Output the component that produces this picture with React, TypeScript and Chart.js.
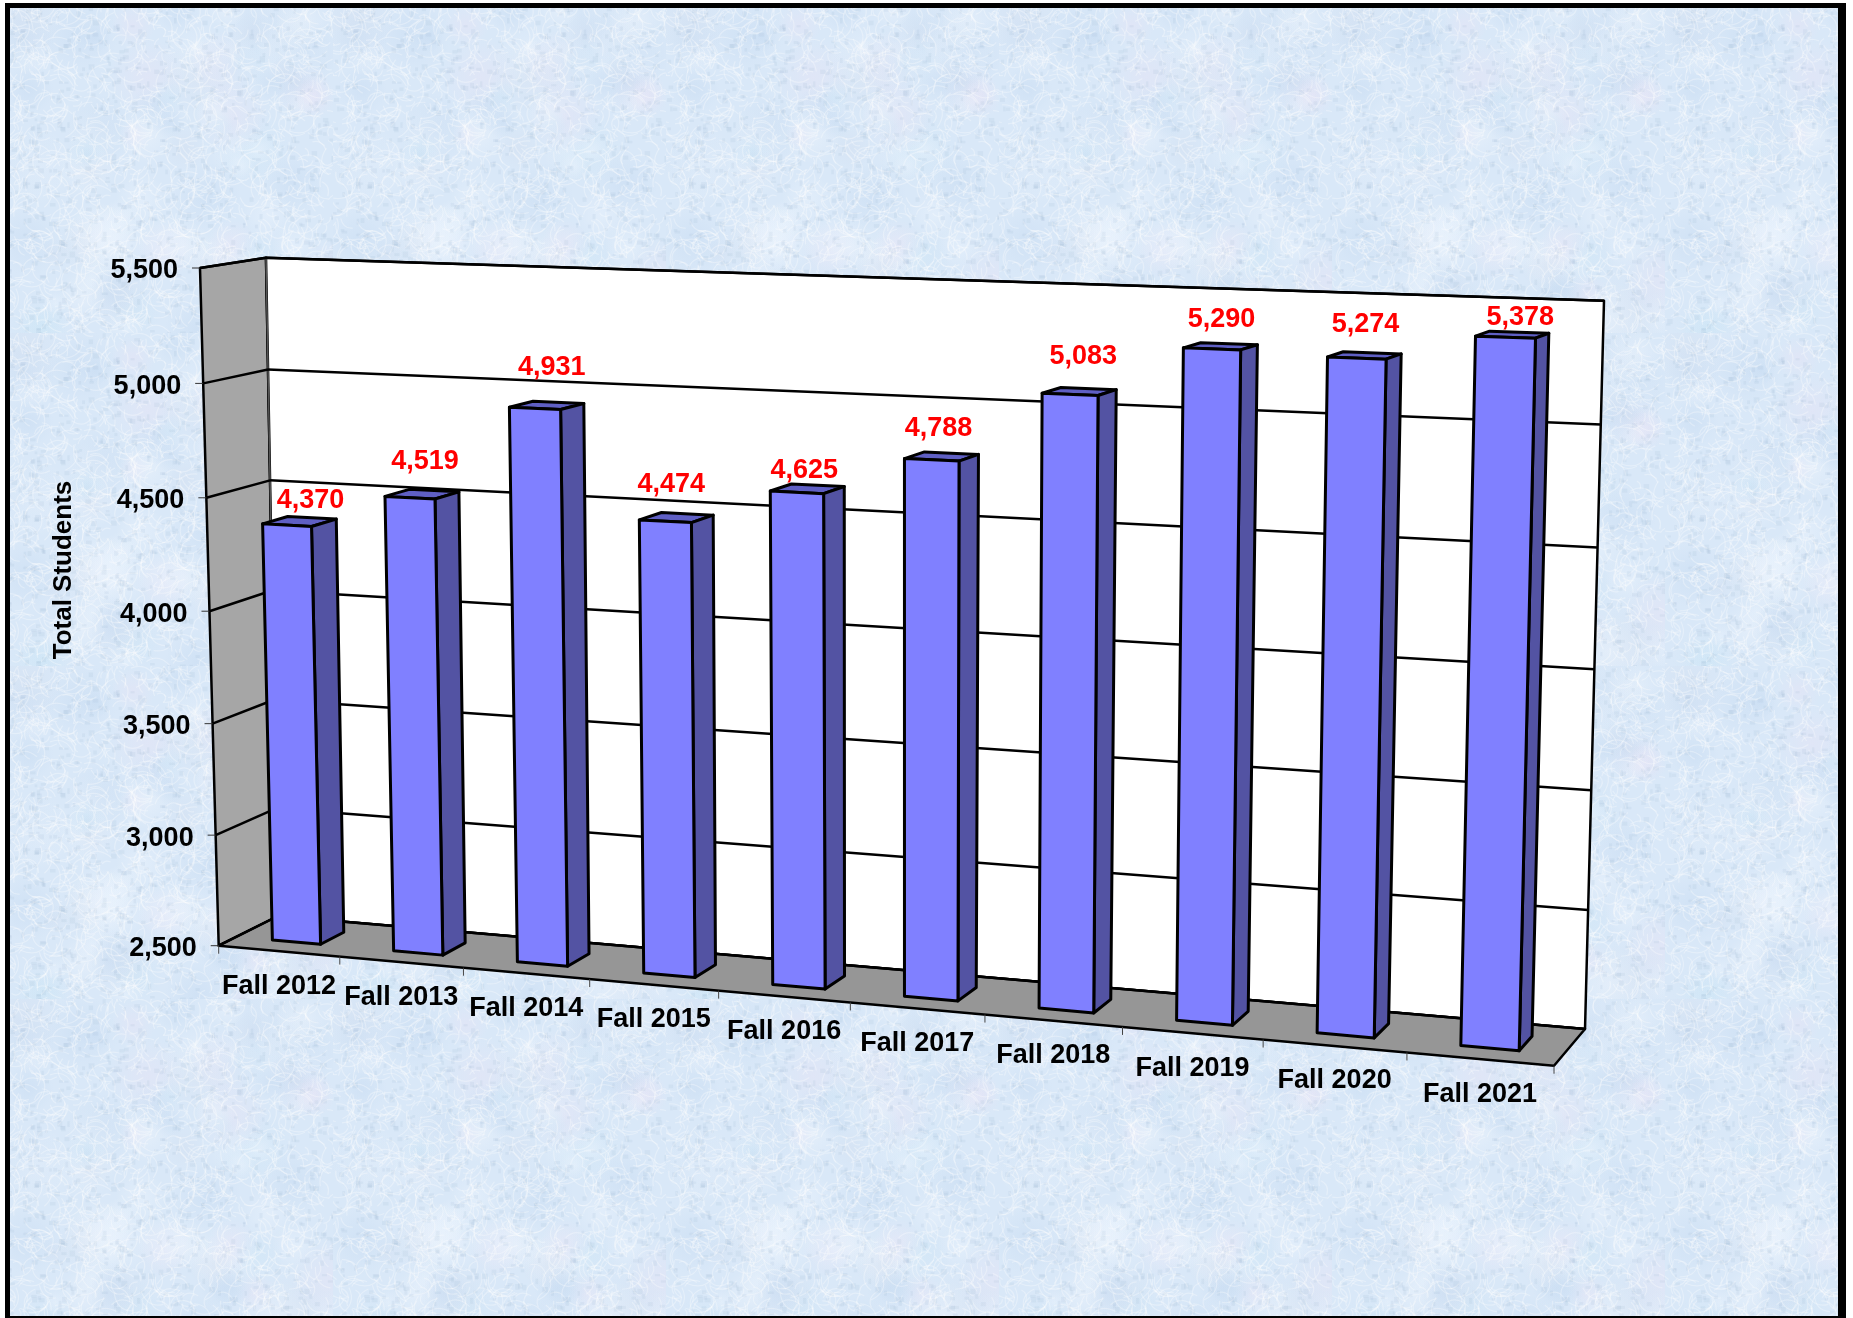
import React, { useEffect, useRef } from "react";
import { Chart, registerables } from "chart.js";

Chart.register(...registerables);

const categories = ["Fall 2012", "Fall 2013", "Fall 2014", "Fall 2015", "Fall 2016", "Fall 2017", "Fall 2018", "Fall 2019", "Fall 2020", "Fall 2021"];
const totalStudents = [4370, 4519, 4931, 4474, 4625, 4788, 5083, 5290, 5274, 5378];
const axisTitle = "Total Students";

type P = [number, number];
const WIDTH = 1853;
const HEIGHT = 1318;
const FONT = '"Liberation Sans", Arial, sans-serif';

// Corners of the 3D box on the page: [bottom-left, bottom-right, top-right, top-left]
const frontPlane: P[] = [[218.7, 945.7], [1554, 1065.7], [1572, 312], [200, 268]];
const backPlane: P[] = [[278, 916], [1585, 1029], [1604, 300.7], [266, 257.7]];
const BAR_FRONT = 0.3;
const BAR_BACK = 0.7;
const labelNudge: P[] = [[11, -21], [3, -33], [5, -38], [-5, -33], [-3, -18], [-3, -28], [4, -35], [1, -27], [1, -31], [8, -17]];

function homography(q: P[]) {
  const [p0, p1, p2, p3] = q;
  const dx1 = p1[0] - p2[0], dx2 = p3[0] - p2[0], sx = p0[0] - p1[0] + p2[0] - p3[0];
  const dy1 = p1[1] - p2[1], dy2 = p3[1] - p2[1], sy = p0[1] - p1[1] + p2[1] - p3[1];
  const det = dx1 * dy2 - dx2 * dy1;
  const g = (sx * dy2 - dx2 * sy) / det;
  const h = (dx1 * sy - sx * dy1) / det;
  const a = p1[0] - p0[0] + g * p1[0], b = p3[0] - p0[0] + h * p3[0], c = p0[0];
  const d = p1[1] - p0[1] + g * p1[1], e = p3[1] - p0[1] + h * p3[1], f = p0[1];
  return (u: number, v: number): P => {
    const z = g * u + h * v + 1;
    return [(a * u + b * v + c) / z, (d * u + e * v + f) / z];
  };
}
const hFront = homography(frontPlane);
const hBack = homography(backPlane);
const project = (u: number, v: number, w: number): P => {
  const a = hFront(u, v), b = hBack(u, v);
  return [a[0] + (b[0] - a[0]) * w, a[1] + (b[1] - a[1]) * w];
};

function poly(ctx: CanvasRenderingContext2D, pts: P[], fill: string | null, stroke = "#000", lw = 2.5) {
  ctx.beginPath();
  pts.forEach((p, i) => (i ? ctx.lineTo(p[0], p[1]) : ctx.moveTo(p[0], p[1])));
  ctx.closePath();
  if (fill) { ctx.fillStyle = fill; ctx.fill(); }
  ctx.lineJoin = "round";
  ctx.lineWidth = lw;
  ctx.strokeStyle = stroke;
  ctx.stroke();
}
function seg(ctx: CanvasRenderingContext2D, a: P, b: P, color = "#000", lw = 2.5) {
  ctx.beginPath();
  ctx.moveTo(a[0], a[1]);
  ctx.lineTo(b[0], b[1]);
  ctx.strokeStyle = color;
  ctx.lineWidth = lw;
  ctx.stroke();
}

// Marbled paper backdrop, a tile like the reference's picture fill.
function makeTile(): HTMLCanvasElement {
  const S = 333;
  const c = document.createElement("canvas");
  c.width = S; c.height = S;
  const g = c.getContext("2d")!;
  let seed = 1234567;
  const rnd = () => { seed = (seed * 1664525 + 1013904223) >>> 0; return seed / 4294967296; };
  g.fillStyle = "#d9e8f8";
  g.fillRect(0, 0, S, S);
  const tints = ["#c5daf1", "#edf5fe", "#e8e3f5", "#cde6f6", "#d3dff0", "#f0f6fd"];
  for (let i = 0; i < 90; i++) {
    const x = rnd() * S, y = rnd() * S, r = 10 + rnd() * 30;
    g.globalAlpha = 0.45;
    const rg = g.createRadialGradient(x, y, 0, x, y, r);
    const t = tints[Math.floor(rnd() * tints.length)];
    rg.addColorStop(0, t);
    rg.addColorStop(1, t + "00");
    g.fillStyle = rg;
    g.fillRect(x - r, y - r, 2 * r, 2 * r);
  }
  g.lineWidth = 1.2;
  for (let i = 0; i < 1500; i++) {
    const x = rnd() * S, y = rnd() * S, a = rnd() * 6.28, l = 5 + rnd() * 14;
    g.globalAlpha = 0.3;
    g.strokeStyle = "#ffffff";
    g.beginPath();
    g.moveTo(x, y);
    g.quadraticCurveTo(x + Math.cos(a) * l, y + Math.sin(a) * l, x + Math.cos(a + 0.8) * l * 1.6, y + Math.sin(a + 0.8) * l * 1.6);
    g.stroke();
  }
  for (let i = 0; i < 900; i++) {
    g.globalAlpha = 0.09;
    g.fillStyle = "#7f9bbd";
    g.fillRect(rnd() * S, rnd() * S, 2 + rnd() * 4, 2 + rnd() * 4);
  }
  g.globalAlpha = 1;
  return c;
}

const box3dPlugin = {
  id: "box3d",
  beforeDraw(chart: any) {
    const ctx: CanvasRenderingContext2D = chart.ctx;
    ctx.save();
    ctx.fillStyle = "#fff";
    ctx.fillRect(0, 0, WIDTH, HEIGHT);
    ctx.fillStyle = "#000";
    ctx.fillRect(5, 3, 1841, 1315);
    ctx.fillStyle = ctx.createPattern(makeTile(), "repeat")!;
    ctx.fillRect(10, 8, 1828, 1308);
    ctx.restore();
  },
  beforeDatasetsDraw(chart: any) {
    const ctx: CanvasRenderingContext2D = chart.ctx;
    const { x, y } = chart.scales;
    const area = chart.chartArea;
    const V = (val: number) => (area.bottom - y.getPixelForValue(val)) / (area.bottom - area.top);
    ctx.save();
    // side wall, back wall, floor
    poly(ctx, [project(0, 0, 0), project(0, 1, 0), project(0, 1, 1), project(0, 0, 1)], "#a6a6a6");
    poly(ctx, [project(0, 0, 1), project(0, 1, 1), project(1, 1, 1), project(1, 0, 1)], "#ffffff");
    poly(ctx, [project(0, 0, 0), project(1, 0, 0), project(1, 0, 1), project(0, 0, 1)], "#969696");
    seg(ctx, project(0, 0, 1), project(0, 1, 1), "#555", 1.5);
    // gridlines and value axis
    ctx.font = `bold 27px ${FONT}`;
    ctx.fillStyle = "#000";
    ctx.textAlign = "right";
    ctx.textBaseline = "middle";
    y.ticks.forEach((t: any) => {
      const v = V(t.value);
      const f = project(0, v, 0);
      seg(ctx, f, project(0, v, 1));
      seg(ctx, project(0, v, 1), project(1, v, 1));
      seg(ctx, [f[0] - 8, f[1]], f, "#333", 1);
      ctx.fillStyle = "#000";
      ctx.fillText(t.label, f[0] - 22, f[1] + 3);
    });
    // category axis
    ctx.textAlign = "center";
    const n = categories.length;
    for (let i = 0; i <= n; i++) {
      const p = project(i / n, 0, 0);
      seg(ctx, p, [p[0], p[1] + 8], "#444", 1);
    }
    x.ticks.forEach((t: any, i: number) => {
      const u = (x.getPixelForValue(t.value) - area.left) / (area.right - area.left);
      const p = project(u, 0, 0);
      ctx.fillStyle = "#000";
      ctx.fillText(categories[i], p[0], p[1] + 35);
    });
    // value-axis title
    ctx.save();
    ctx.translate(64, 570);
    ctx.rotate(-Math.PI / 2);
    ctx.font = `bold 26px ${FONT}`;
    ctx.fillText(axisTitle, 0, 0);
    ctx.restore();
    ctx.restore();
  },
  beforeDatasetDraw() {
    return false; // bars are drawn in perspective below, from the same elements
  },
  afterDatasetsDraw(chart: any) {
    const ctx: CanvasRenderingContext2D = chart.ctx;
    const area = chart.chartArea;
    const W = area.right - area.left, H = area.bottom - area.top;
    const bars = chart.getDatasetMeta(0).data;
    ctx.save();
    bars.forEach((el: any) => {
      const uL = (el.x - el.width / 2 - area.left) / W;
      const uR = (el.x + el.width / 2 - area.left) / W;
      const vT = (area.bottom - el.y) / H;
      const vB = (area.bottom - el.base) / H;
      const w1 = BAR_FRONT, w2 = BAR_BACK;
      poly(ctx, [project(uL, vT, w1), project(uR, vT, w1), project(uR, vT, w2), project(uL, vT, w2)], "#5f5fc4", "#000", 3);
      poly(ctx, [project(uR, vB, w1), project(uR, vT, w1), project(uR, vT, w2), project(uR, vB, w2)], "#5353a3", "#000", 3);
      poly(ctx, [project(uL, vB, w1), project(uR, vB, w1), project(uR, vT, w1), project(uL, vT, w1)], "#8080ff", "#000", 3);
    });
    ctx.font = `bold 27px ${FONT}`;
    ctx.fillStyle = "#ff0000";
    ctx.textAlign = "center";
    ctx.textBaseline = "middle";
    bars.forEach((el: any, i: number) => {
      const u = (el.x - area.left) / W;
      const v = (area.bottom - el.y) / H;
      const p = project(u, v, 0.5);
      ctx.fillText(totalStudents[i].toLocaleString("en-US"), p[0] + labelNudge[i][0], p[1] + labelNudge[i][1]);
    });
    ctx.restore();
  },
};

export default function App() {
  const ref = useRef<HTMLCanvasElement>(null);
  useEffect(() => {
    const chart = new Chart(ref.current!, {
      type: "bar",
      data: {
        labels: categories,
        datasets: [{ label: axisTitle, data: totalStudents, base: 2500, barPercentage: 0.4, categoryPercentage: 1 }],
      },
      options: {
        animation: false,
        responsive: false,
        devicePixelRatio: 1,
        layout: { padding: 0 },
        plugins: { legend: { display: false }, tooltip: { enabled: false } },
        scales: {
          x: { display: false },
          y: { display: false, min: 2500, max: 5500, ticks: { stepSize: 500 } },
        },
      },
      plugins: [box3dPlugin],
    } as any);
    return () => chart.destroy();
  }, []);
  return (
    <div style={{ position: "absolute", left: 0, top: 0, width: WIDTH, height: HEIGHT, overflow: "hidden" }}>
      <canvas ref={ref} width={WIDTH} height={HEIGHT} style={{ display: "block" }} />
    </div>
  );
}
